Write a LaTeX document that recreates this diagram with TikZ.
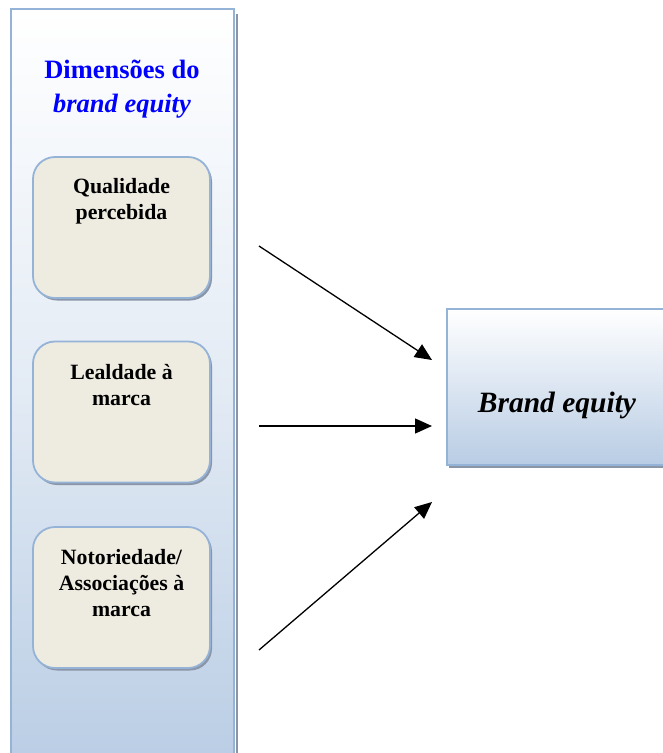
\documentclass[tikz,border=0pt]{standalone}
\usepackage{fontspec}
\setmainfont{Liberation Serif}
\usetikzlibrary{arrows.meta}
\definecolor{edgeblue}{HTML}{95B3D7}
\definecolor{paleblue}{HTML}{B8CCE4}
\definecolor{boxfill}{HTML}{EEECE1}
\definecolor{shadowgray}{HTML}{8A96A8}
\definecolor{titleblue}{HTML}{0000FF}
\begin{document}
\begin{tikzpicture}[x=1pt,y=-1pt,
  panel/.style={draw=edgeblue,line width=2pt,rectangle,inner sep=0pt,
    top color=white,bottom color=paleblue,middle color=white!60!paleblue},
  dimbox/.style={draw=edgeblue,line width=1.8pt,fill=boxfill,rounded corners=22pt,
    inner sep=0pt,minimum width=177pt,minimum height=141pt},
  boxshadow/.style={fill=shadowgray,rounded corners=22pt,inner sep=0pt,
    minimum width=177pt,minimum height=141pt},
  dimtext/.style={align=center,font=\fontsize{21.8}{26}\selectfont\bfseries},
  link/.style={line width=1.3pt,-{Triangle[length=17pt,width=15pt]}}]
\useasboundingbox (0,0) rectangle (663,753);
% left panel with its shadow
\fill[shadowgray] (236,14) rectangle (238,770);
\node[panel,minimum width=223pt,minimum height=770pt] (dims) at (122.5,394) {};
\node[align=center,text=titleblue,font=\fontsize{26.5}{34}\selectfont\bfseries] (title) at (122,89)
  {Dimensões do\\\itshape brand equity};
% the three dimension boxes
\node[boxshadow] at (123.5,230) {};
\node[dimbox] (q) at (121.5,227.5) {};
\node[dimtext] (qt) at (121.5,201) {Qualidade\\percebida};
\node[boxshadow] at (123.5,414.5) {};
\node[dimbox] (l) at (121.5,412) {};
\node[dimtext] (lt) at (121.5,385.5) {Lealdade à\\marca};
\node[boxshadow] at (123.5,600) {};
\node[dimbox] (n) at (121.5,597.5) {};
\node[dimtext] (nt) at (121.5,583) {Notoriedade/\\Associações à\\marca};
% result box
\fill[shadowgray] (449,465) rectangle (680,468);
\node[draw=edgeblue,line width=2pt,top color=white,bottom color=paleblue,
  inner sep=0pt,minimum width=240pt,minimum height=156pt] (be) at (567,387) {};
\node[font=\fontsize{29.5}{34}\selectfont\bfseries\itshape] (bet) at (557,405) {Brand equity};
% arrows
\coordinate (a1) at (259,246); \coordinate (b1) at (432,360);
\coordinate (a2) at (259,426); \coordinate (b2) at (432,426);
\coordinate (a3) at (259,650); \coordinate (b3) at (432,502);
\draw[link] (a1) -- (b1);
\draw[link] (a2) -- (b2);
\draw[link] (a3) -- (b3);
\end{tikzpicture}
\end{document}
